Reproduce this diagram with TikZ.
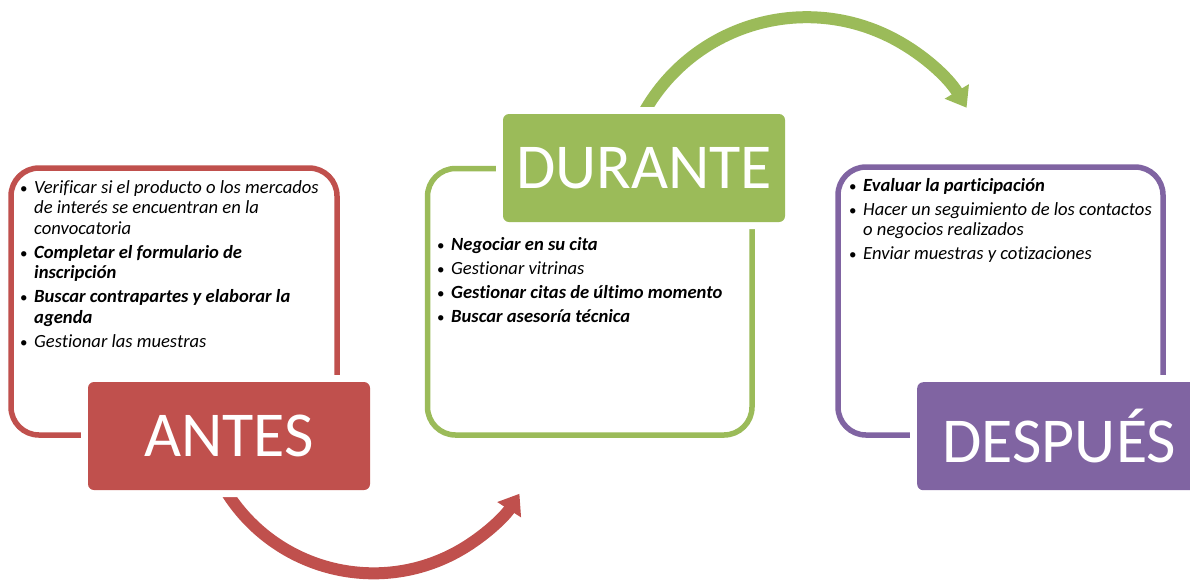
\documentclass[tikz,border=0pt]{standalone}
\usepackage{fontspec}
\setmainfont{Carlito}[Ligatures=NoCommon]
\usetikzlibrary{arrows.meta}
\definecolor{cred}{HTML}{C0504D}
\definecolor{cgreen}{HTML}{9BBB59}
\definecolor{cpurple}{HTML}{8064A2}
\newcommand\bitem[1]{\par\noindent\hangindent=14pt\hangafter=1\makebox[14pt][l]{\fontsize{15}{15}\selectfont •}#1}
\newcommand\itemblock[1]{\parbox[t]{360pt}{\fontsize{18.6}{20.5}\selectfont\parskip=3.6pt #1}}
\tikzset{
  frame/.style={draw=#1, line width=5.5pt, rounded corners=28pt, fill=none, inner sep=0pt},
  phasebox/.style={fill=#1, rounded corners=6pt, inner sep=0pt,
    preaction={draw=white, line width=14pt, rounded corners=6pt},
    text=white, font=\fontsize{64}{64}\selectfont},
  listtext/.style={anchor=base west, inner sep=0pt, text=black},
  cyclearrow/.style={draw=#1, line width=12pt, -{Triangle[length=19pt,width=27pt]}},
}
\begin{document}
\begin{tikzpicture}[x=1pt,y=-1pt]
\clip (0,0) rectangle (1190,579);
\fill[white] (0,0) rectangle (1190,579);
% frames
\node[frame=cred, minimum width=326pt, minimum height=267pt] (fa) at (174,301.5) {};
\node[frame=cgreen, minimum width=324.5pt, minimum height=266.5pt] (fd) at (589.75,301.75) {};
\node[frame=cpurple, minimum width=325pt, minimum height=268pt] (fp) at (1000.5,301) {};
% arrows
\coordinate (rc) at (373,400);
\coordinate (gc) at (807,204);
\draw[cyclearrow=cred] (rc) ++(150:173) arc[start angle=150, end angle=32.8, radius=173.6];
\draw[cyclearrow=cgreen] (gc) ++(-153.3:187) arc[start angle=-153.3, end angle=-31, radius=186.6];
% phase boxes
\node[phasebox=cred, minimum width=282pt, minimum height=108pt] (antes) at (229,436) {ANTES};
\node[phasebox=cgreen, minimum width=282pt, minimum height=108pt] (durante) at (644,168) {DURANTE};
\path (917,382) coordinate (dpnw);
\node[phasebox=cpurple, minimum width=284pt, minimum height=108pt, anchor=north west, text width=264pt, align=center] (despues) at (dpnw) {\hspace*{0pt}DESPUÉS};
% texts
\node[listtext] (ta) at (20,193) {\itemblock{%
\bitem{{\itshape Verificar si el producto o los mercados\newline de interés se encuentran en la\newline convocatoria}}
\bitem{{\bfseries\itshape Completar el formulario de\newline inscripción}}
\bitem{{\bfseries\itshape Buscar contrapartes y elaborar la\newline agenda}}
\bitem{{\itshape Gestionar las muestras}}}};
\node[listtext] (td) at (437,250) {\itemblock{%
\bitem{{\bfseries\itshape Negociar en su cita}}
\bitem{{\itshape Gestionar vitrinas}}
\bitem{{\bfseries\itshape Gestionar citas de último momento}}
\bitem{{\bfseries\itshape Buscar asesoría técnica}}}};
\node[listtext] (tp) at (849,191) {\itemblock{%
\bitem{{\bfseries\itshape Evaluar la participación}}
\bitem{{\itshape Hacer un seguimiento de los contactos\newline o negocios realizados}}
\bitem{{\itshape Enviar muestras y cotizaciones}}}};
\end{tikzpicture}
\end{document}
